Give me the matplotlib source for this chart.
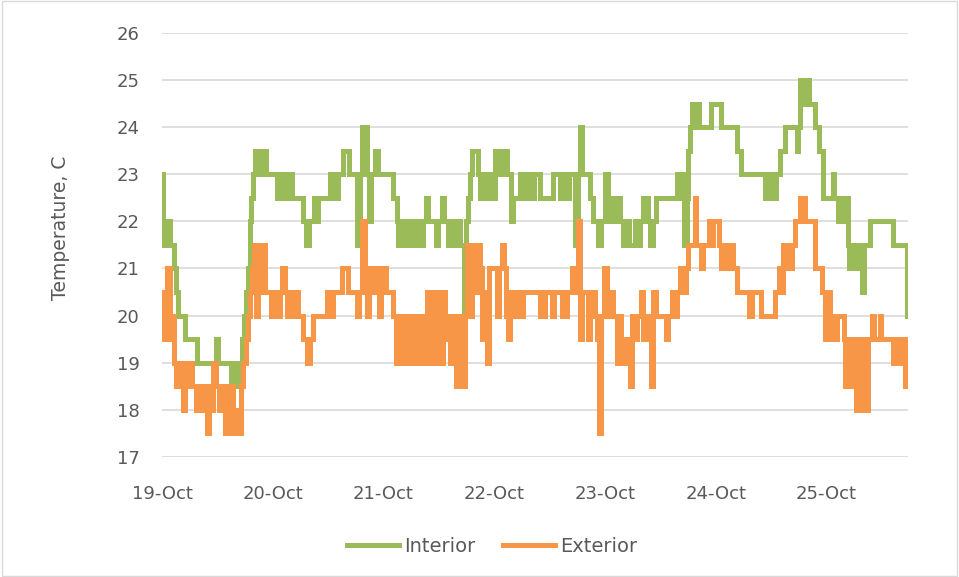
import matplotlib
matplotlib.use("Agg")
import matplotlib.pyplot as plt
from matplotlib.patches import Rectangle

# hours since 19-Oct 00:00, temperature held until the next reading
int_hours = [0, 0.2, 0.4, 0.65, 1.1, 1.3, 1.7, 2.6, 3.0, 3.5, 5.0, 7.6, 11.7, 12.1,
             15.0, 15.6, 16.0, 16.7, 17.3, 17.8, 18.2, 18.6, 19.0, 19.3, 19.7, 20.2,
             20.6, 20.8, 21.2, 21.5, 22.5, 24.9, 25.4, 26.0, 26.5, 27.1, 27.5, 28.2,
             30.6, 31.2, 31.9, 33.0, 33.4, 33.8, 36.4, 37.1, 38.2, 39.2, 40.5, 42.3,
             42.9, 43.4, 44.4, 44.9, 45.3, 46.2, 46.8, 50.1, 50.9, 51.2, 51.6, 52.0,
             52.5, 52.9, 53.3, 53.8, 54.2, 55.1, 55.5, 56.2, 56.6, 57.2, 57.7, 59.4,
             59.8, 60.7, 61.1, 62.0, 62.4, 63.3, 64.0, 64.6, 65.5, 65.9, 66.3, 66.8,
             67.2, 68.5, 68.9, 69.4, 69.8, 70.7, 71.1, 72.2, 73.3, 73.7, 74.8, 75.7,
             76.1, 77.6, 78.3, 79.1, 80.0, 80.7, 81.9, 84.8, 86.3, 87.2, 87.6, 88.2,
             89.5, 90.2, 90.6, 91.1, 92.8, 93.4, 94.5, 95.2, 96.0, 96.7, 97.1, 97.8,
             98.6, 99.3, 99.9, 100.8, 101.3, 102.6, 103.2, 103.6, 104.3, 105.4, 105.8,
             106.5, 107.1, 111.7, 112.1, 112.6, 113.2, 113.7, 114.0, 114.5, 114.9,
             115.3, 115.7, 116.4, 119.0, 121.2, 124.7, 125.5, 130.7, 131.2, 131.6,
             132.0, 132.7, 133.1, 134.0, 134.9, 137.5, 137.9, 138.3, 139.0, 139.4,
             140.1, 141.6, 142.3, 143.3, 145.3, 145.7, 146.6, 147.0, 147.6, 148.3,
             148.7, 148.9, 149.6, 150.1, 150.7, 151.4, 151.8, 152.2, 153.5, 158.5,
             161.5, 161.7]
int_temp = [23, 22, 21.5, 22, 21.5, 22, 21.5, 21, 20.5, 20, 19.5, 19, 19.5, 19,
            18.5, 19, 18.5, 19, 19.5, 20, 20.5, 21, 22, 22.5, 23, 23.5,
            23, 23.5, 23, 23.5, 23, 22.5, 23, 22.5, 23, 22.5, 23, 22.5,
            22, 21.5, 22, 22.5, 22, 22.5, 23, 22.5, 23, 23.5, 23, 21.5,
            23, 24, 23, 22, 23, 23.5, 23, 22.5, 22, 21.5, 22, 21.5,
            22, 21.5, 22, 21.5, 22, 21.5, 22, 21.5, 22, 22.5, 22, 21.5,
            22, 22.5, 22, 21.5, 22, 21.5, 22, 21.5, 20, 22, 22.5, 23,
            23.5, 23, 22.5, 23, 22.5, 23, 22.5, 23.5, 23, 23.5, 23, 22,
            22.5, 23, 22.5, 23, 22.5, 23, 22.5, 23, 22.5, 23, 22.5, 23,
            21.5, 23, 24, 23, 22.5, 22, 21.5, 22, 23, 22, 22.5, 22,
            22.5, 22, 21.5, 22, 21.5, 22, 21.5, 22, 22.5, 22, 21.5,
            22, 22.5, 23, 22.5, 23, 21.5, 22.5, 23.5, 24, 24.5,
            24, 24.5, 24, 24.5, 24, 23.5, 23, 22.5, 23, 22.5,
            23, 22.5, 23, 23.5, 24, 23.5, 24, 25, 24.5, 25,
            24.5, 24, 23.5, 22.5, 23, 22.5, 22, 22.5, 22, 22.5,
            21.5, 21, 21.5, 21, 21.5, 21, 20.5, 21.5, 22, 21.5,
            20, 20]

ext_hours = [0, 0.2, 0.4, 0.9, 1.1, 1.7, 2.0, 2.4, 2.6, 3.0, 3.5, 4.1, 4.6, 5.0,
             5.6, 6.1, 6.5, 7.4, 7.8, 8.7, 9.3, 9.8, 10.1, 10.6, 11.1, 11.7, 12.4,
             13.0, 13.7, 14.1, 14.5, 15.0, 15.4, 16.0, 16.5, 17.1, 17.6, 18.2, 18.6,
             19.1, 19.5, 19.9, 20.4, 20.8, 21.5, 21.9, 22.3, 23.6, 24.1, 25.1, 25.6,
             26.0, 26.7, 27.1, 27.5, 28.2, 28.6, 29.5, 30.6, 31.4, 32.1, 32.7, 35.8,
             36.4, 37.1, 39.0, 40.3, 42.3, 42.7, 43.4, 44.0, 44.4, 44.9, 46.0, 46.4,
             47.1, 47.5, 48.6, 50.1, 50.7, 51.4, 51.8, 52.5, 52.9, 53.6, 54.2, 55.1,
             55.7, 56.4, 57.0, 57.5, 57.9, 58.5, 59.0, 59.4, 59.8, 60.3, 60.9, 61.4,
             62.0, 62.4, 63.1, 63.7, 64.2, 64.6, 65.3, 65.7, 66.1, 66.8, 67.2, 67.9,
             68.5, 68.9, 69.4, 70.0, 70.5, 70.9, 71.5, 72.6, 73.1, 73.7, 74.1, 74.6,
             75.0, 75.4, 76.3, 76.7, 77.8, 78.3, 82.0, 83.0, 84.6, 85.0, 86.7, 87.8,
             88.9, 89.3, 90.2, 90.6, 91.1, 92.4, 92.8, 93.9, 94.3, 94.7, 95.2, 95.8,
             96.5, 97.1, 97.8, 98.6, 99.1, 99.5, 100.2, 100.8, 101.5, 101.9, 102.6,
             103.0, 103.9, 104.3, 104.9, 106.0, 106.5, 107.1, 109.3, 109.7, 110.6,
             111.2, 111.7, 112.3, 113.0, 113.5, 113.9, 115.4, 115.8, 116.9, 117.3,
             118.5, 119.1, 119.5, 120.6, 121.2, 121.6, 122.3, 122.9, 123.8, 124.7,
             127.3, 127.9, 129.9, 132.9, 133.8, 134.2, 134.6, 135.2, 135.7, 136.1,
             136.6, 137.2, 138.3, 139.4, 141.6, 143.1, 143.6, 144.2, 144.8, 145.3,
             145.9, 146.3, 147.7, 148.1, 148.7, 149.1, 149.6, 150.1, 150.5, 151.2,
             151.5, 152.2, 152.6, 153.1, 153.9, 154.4, 155.5, 155.9, 158.5, 159.1,
             159.8, 160.7, 161.1, 161.5, 161.7]
ext_temp = [20.5, 19.5, 20.5, 19.5, 21, 20, 19.5, 20, 19, 18.5, 19, 18.5, 18, 19,
            18.5, 19, 18.5, 18, 18.5, 18, 18.5, 17.5, 18.5, 18, 19, 18.5, 18,
            18.5, 17.5, 18.5, 17.5, 18.5, 17.5, 18, 17.5, 18.5, 19, 19.5, 20,
            20.5, 21, 21.5, 20, 21.5, 20.5, 21.5, 20.5, 20, 20.5, 20, 20.5,
            21, 20.5, 20, 20.5, 20, 20.5, 20, 19.5, 19, 19.5, 20, 20.5,
            20, 20.5, 21, 20.5, 20, 20.5, 22, 21, 20, 21, 20.5, 21,
            20, 21, 20.5, 20, 19, 20, 19, 20, 19, 20, 19, 20,
            19, 20, 19, 20.5, 19, 20, 20.5, 19, 20.5, 19, 20.5, 19.5,
            20, 19, 20, 18.5, 20, 19, 18.5, 20, 21.5, 20, 21.5, 20.5,
            21.5, 21, 19.5, 20.5, 19, 21, 21, 20, 21, 21.5, 21, 20,
            19.5, 20.5, 20, 20.5, 20, 20.5, 20, 20.5, 20, 20.5, 20, 20.5,
            21, 20.5, 22, 19.5, 20.5, 19.5, 20.5, 20, 19.5, 17.5, 20, 21,
            20, 20.5, 20, 19, 20, 19, 19.5, 19, 18.5, 20, 19.5,
            20, 20.5, 19.5, 20, 18.5, 20.5, 20, 19.5, 20, 20.5,
            20, 20.5, 21, 20.5, 21, 21.5, 22.5, 21.5, 21, 21.5,
            22, 21.5, 22, 21.5, 21, 21.5, 21, 21.5, 21, 20.5,
            20, 20.5, 20, 20.5, 21, 20.5, 21.5, 21, 21.5, 21,
            21.5, 22, 22.5, 22, 21, 20.5, 19.5, 20.5, 19.5, 20,
            19.5, 20, 19.5, 18.5, 19, 19.5, 18.5, 19.5, 18, 19.5,
            18, 19.5, 18, 19.5, 20, 19.5, 20, 19.5, 19, 19.5,
            19, 19.5, 18.5, 19, 18.5]

day_labels = ["19-Oct", "20-Oct", "21-Oct", "22-Oct", "23-Oct", "24-Oct", "25-Oct"]
y_ticks = [17, 18, 19, 20, 21, 22, 23, 24, 25, 26]

plt.rcParams['font.family'] = ['DejaVu Sans']
txt = '#595959'

fig = plt.figure(figsize=(9.59, 5.77), dpi=100)
ax = fig.add_axes([0.169, 0.208, 0.778, 0.735])

ax.plot(int_hours, int_temp, drawstyle='steps-post', color='#9BBB59', lw=3.6,
        solid_joinstyle='miter', label='Interior')
ax.plot(ext_hours, ext_temp, drawstyle='steps-post', color='#F79646', lw=3.6,
        solid_joinstyle='miter', label='Exterior')

ax.set_xlim(0, 161.7)
ax.set_ylim(17, 26)
ax.set_yticks(y_ticks)
ax.set_xticks([24 * i for i in range(len(day_labels))])
ax.set_xticklabels(day_labels)
ax.grid(axis='y', color='#D9D9D9', lw=1.2)
ax.set_axisbelow(True)
for s in ax.spines.values():
    s.set_visible(False)
ax.tick_params(length=0, labelsize=13, labelcolor=txt)
ax.tick_params(axis='y', pad=16)
ax.tick_params(axis='x', pad=20)

fig.text(60 / 959, 1 - 228 / 577, 'Temperature, C', rotation=90, fontsize=13.5,
         color=txt, ha='center', va='center')

ax.legend(loc='center', bbox_to_anchor=(0.442, -0.21), ncol=2, frameon=False,
          fontsize=14, labelcolor=txt, handlelength=2.7, handletextpad=0.25,
          columnspacing=1.4)

fig.patches.append(Rectangle((0.002, 0.002), 0.996, 0.996, transform=fig.transFigure,
                             fill=False, edgecolor='#D9D9D9', lw=1))

fig.savefig('out.png', dpi=100)
